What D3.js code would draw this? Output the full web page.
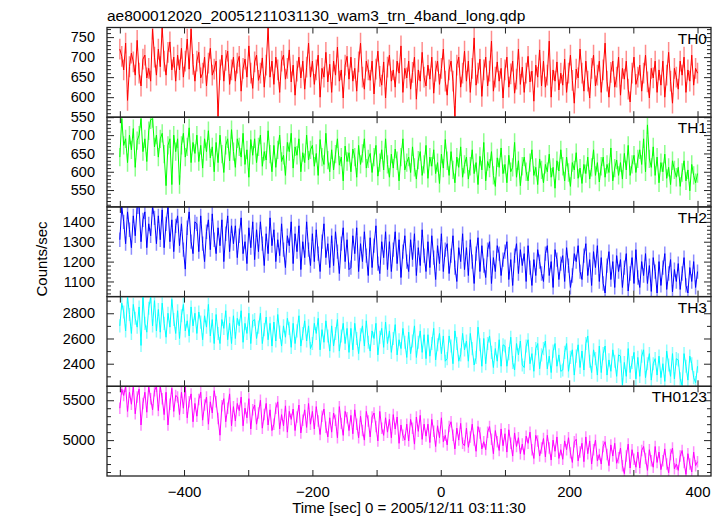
<!DOCTYPE html>
<html><head><meta charset="utf-8">
<script src="https://cdn.jsdelivr.net/npm/d3@7"></script>
<style>body{margin:0;background:#fff}</style>
</head><body><svg id="c" width="724" height="516"></svg>
<script>
const chartTitle = "ae800012020_20051211031130_wam3_trn_4band_long.qdp";
const xTitle = "Time [sec] 0 = 2005/12/11 03:11:30";
const yTitle = "Counts/sec";
const seriesNames = ["TH0", "TH1", "TH2", "TH3", "TH0123"];
const seriesColors = ["#ff0000", "#00ff00", "#0000ff", "#00ffff", "#ff00ff"];
const timeStart = -500, timeStep = 3;

const th0 = [
720,702,668,735,592,676,710,688,655,742,
660,628,695,705,648,672,640,770,700,655,
720,676,775,690,655,712,738,668,700,640,
705,668,722,650,690,745,670,770,682,640,
690,712,648,660,700,628,685,722,655,670,
690,552,668,705,640,692,715,632,668,700,
640,685,702,615,672,695,650,728,660,622,
688,705,642,660,698,625,680,775,650,690,
632,700,668,612,690,705,645,672,718,638,
680,605,665,700,648,690,620,675,735,650,
690,632,668,705,600,672,650,712,638,682,
612,690,655,725,640,668,598,680,702,645,
700,640,672,615,688,735,650,620,690,668,
642,690,608,670,715,652,630,688,598,675,
705,640,668,625,690,660,728,612,672,648,
690,620,662,700,595,668,640,712,650,628,
680,645,700,610,665,690,632,672,720,640,
605,668,690,640,552,680,700,625,660,715,
640,690,612,672,748,630,660,695,602,668,
700,628,665,740,615,650,688,640,672,598,
668,700,625,658,690,610,645,720,632,675,
612,660,702,638,665,590,680,650,718,628,
690,625,655,740,600,668,640,688,618,660,
630,695,612,660,705,642,585,670,648,720,
660,615,690,640,598,672,705,628,655,690,
612,668,735,640,600,662,690,625,650,700,
605,672,645,690,620,588,660,700,632,650,
680,615,660,705,638,598,672,648,690,612,
668,630,690,600,655,712,640,585,672,650,
620,690,655,700,612,668,640,705,630,672,
660];
const th1 = [
640,745,672,690,625,700,660,718,612,685,
700,745,655,690,628,712,742,745,668,700,
640,690,705,648,562,672,690,565,700,655,
690,565,672,705,640,668,720,625,680,650,
700,628,672,610,690,655,712,638,668,600,
680,625,700,648,598,672,690,630,715,655,
612,690,668,640,705,620,660,585,688,645,
690,625,668,700,615,655,632,712,648,600,
672,612,660,700,628,645,590,680,655,705,
610,668,645,690,600,652,625,700,632,660,
672,615,650,590,688,640,620,705,632,600,
660,605,648,690,618,640,575,670,628,652,
600,662,640,585,672,620,650,690,610,635,
650,598,640,672,588,625,660,605,690,620,
585,648,610,662,630,575,640,690,605,625,
640,598,668,612,580,632,655,590,620,672,
582,640,615,660,595,625,568,648,610,688,
630,590,655,605,570,640,612,668,585,620,
640,580,615,660,595,625,565,642,605,680,
575,628,610,655,590,560,638,612,665,595,
620,570,645,600,612,680,585,630,562,615,
640,600,575,625,660,590,612,565,635,605,
570,620,600,648,585,612,555,630,602,660,
615,575,640,598,560,625,605,652,582,610,
568,620,595,640,580,612,660,590,625,572,
615,640,585,620,598,665,575,610,632,590,
625,580,650,605,672,590,620,645,598,635,
660,620,690,600,728,635,612,668,590,640,
570,625,600,648,582,612,565,630,605,585,
612,560,598,630,575,605,548,620,590,570,
595];
const th2 = [
1310,1475,1400,1290,1450,1360,1270,1430,1330,1475,
1475,1300,1410,1450,1270,1390,1330,1475,1420,1290,
1430,1310,1460,1270,1390,1475,1300,1410,1250,1380,
1430,1280,1390,1260,1162,1370,1450,1300,1240,1400,
1390,1250,1430,1290,1200,1350,1410,1260,1440,1310,
1240,1370,1280,1410,1200,1340,1430,1250,1380,1290,
1380,1220,1330,1420,1240,1300,1190,1370,1270,1400,
1210,1360,1250,1400,1290,1180,1340,1240,1420,1280,
1360,1200,1310,1230,1390,1260,1170,1330,1280,1400,
1190,1340,1250,1380,1160,1300,1220,1400,1260,1180,
1340,1200,1360,1240,1150,1300,1390,1220,1290,1170,
1330,1180,1350,1250,1140,1290,1370,1200,1310,1160,
1170,1330,1240,1370,1150,1290,1200,1350,1230,1130,
1320,1170,1280,1380,1190,1140,1300,1220,1350,1160,
1300,1150,1260,1350,1190,1310,1120,1250,1330,1200,
1150,1310,1210,1340,1130,1270,1180,1360,1230,1150,
1300,1170,1330,1220,1110,1280,1190,1340,1150,1260,
1290,1140,1230,1330,1170,1100,1270,1200,1340,1160,
1270,1130,1310,1200,1090,1240,1320,1150,1280,1180,
1120,1260,1300,1090,1220,1150,1280,1240,1130,1210,
1250,1300,1110,1210,1080,1230,1290,1140,1260,1180,
1240,1100,1280,1170,1080,1210,1130,1260,1200,1140,
1100,1240,1280,1130,1200,1070,1260,1210,1110,1190,
1230,1100,1270,1180,1070,1130,1240,1200,1280,1150,
1110,1230,1290,1130,1210,1080,1250,1170,1280,1100,
1220,1090,1042,1180,1250,1110,1200,1070,1230,1150,
1210,1070,1170,1240,1052,1140,1220,1090,1260,1120,
1070,1200,1130,1240,1090,1180,1050,1220,1150,1042,
1200,1080,1170,1240,1060,1140,1210,1048,1160,1100,
1190,1060,1140,1220,1080,1042,1170,1100,1200,1070,
1150];
const th3 = [
2700,2880,2810,2660,2930,2790,2640,2870,2760,2690,
2850,2545,2930,2720,2650,2840,2930,2700,2900,2660,
2830,2650,2880,2720,2610,2800,2690,2910,2750,2640,
2820,2600,2780,2870,2660,2740,2620,2850,2700,2800,
2640,2810,2730,2590,2780,2690,2870,2620,2750,2560,
2790,2640,2560,2750,2680,2820,2590,2720,2560,2780,
2600,2760,2700,2820,2570,2720,2640,2800,2560,2740,
2750,2600,2690,2800,2560,2670,2770,2590,2720,2540,
2730,2580,2790,2650,2540,2700,2610,2760,2680,2530,
2720,2560,2660,2780,2540,2640,2740,2580,2700,2520,
2560,2720,2640,2760,2510,2670,2570,2740,2620,2500,
2700,2540,2640,2750,2500,2620,2720,2560,2680,2490,
2680,2510,2720,2600,2480,2630,2700,2540,2740,2570,
2500,2660,2600,2720,2470,2610,2680,2530,2730,2560,
2660,2490,2600,2710,2470,2590,2520,2680,2570,2450,
2650,2480,2580,2700,2450,2570,2660,2490,2630,2440,
2630,2460,2560,2680,2430,2550,2640,2480,2620,2420,
2440,2620,2540,2400,2660,2560,2420,2470,2640,2510,
2580,2420,2640,2520,2390,2450,2690,2550,2380,2600,
2400,2560,2620,2490,2370,2520,2420,2590,2380,2550,
2540,2380,2480,2610,2410,2350,2560,2470,2580,2390,
2370,2540,2590,2400,2480,2340,2520,2560,2360,2470,
2520,2580,2360,2460,2330,2500,2560,2380,2470,2340,
2350,2490,2560,2340,2450,2510,2310,2460,2550,2370,
2500,2350,2560,2620,2420,2330,2510,2440,2310,2540,
2330,2480,2540,2310,2430,2340,2510,2420,2300,2470,
2460,2232,2410,2300,2520,2330,2410,2490,2280,2450,
2300,2460,2510,2290,2400,2480,2270,2400,2440,2310,
2460,2290,2400,2260,2500,2390,2300,2480,2280,2440,
2430,2280,2228,2480,2380,2270,2460,2400,2290,2250,
2380];
const th0123 = [
5400,5640,5560,5675,5360,5600,5450,5675,5330,5540,
5640,5190,5460,5600,5350,5675,5520,5380,5620,5675,
5370,5675,5520,5320,5600,5190,5450,5650,5360,5560,
5540,5320,5600,5400,5675,5280,5480,5580,5230,5460,
5300,5510,5600,5250,5440,5540,5200,5480,5340,5620,
5480,5270,5062,5430,5520,5230,5400,5580,5180,5420,
5240,5460,5370,5540,5180,5400,5280,5520,5140,5380,
5440,5200,5340,5500,5150,5320,5460,5190,5380,5120,
5200,5400,5480,5140,5320,5180,5430,5100,5360,5260,
5390,5120,5290,5440,5090,5250,5380,5160,5460,5200,
5360,5140,5420,5240,5070,5300,5390,5160,5040,5280,
5100,5340,5250,5030,5420,5210,5060,5360,5280,5120,
5310,5080,5380,5200,5030,5300,5120,5000,5360,5240,
5040,5290,5340,5170,4990,5360,5150,5060,5280,5100,
5260,5030,5320,5140,5290,4960,5190,5060,5000,5200,
4990,5260,5150,4950,5290,5110,5310,5010,5200,5050,
5200,4970,5260,5110,4920,5180,5030,5280,4980,5060,
4940,5170,5230,5060,4890,5150,5000,5210,4960,4930,
5150,4910,5040,5200,5000,4860,5170,5090,4890,4980,
4880,5100,5170,5010,4830,5120,4980,4870,5140,4930,
5080,4850,5130,4960,4800,5090,4920,5030,4830,4950,
4820,5050,4960,5100,4880,4770,5060,4990,4800,4900,
5020,4790,5060,4900,4750,5000,4860,5040,4770,4880,
4760,4990,4880,5030,4840,4720,4980,5010,4740,4850,
4960,4730,5040,4830,4990,4700,4880,5000,4740,4820,
4700,4920,4980,4820,4680,4940,4800,4960,4710,4780,
4900,4680,4580,4800,4950,4650,4880,4760,4660,4850,
4650,4870,4920,4770,4620,4880,4740,4660,4920,4720,
4850,4630,4740,4890,4700,4590,4820,4900,4640,4700,
4620,4800,4870,4720,4570,4830,4700,4600,4850,4680,
4730];
const seriesErrors = [26, 25, 36, 52, 72];
const yDomains = [[550, 774], [504, 749], [1024, 1475], [2221, 2932], [4550, 5675]];
const yMajorTicks = [[550, 600, 650, 700, 750], [550, 600, 650, 700], [1100, 1200, 1300, 1400], [2400, 2600, 2800], [5000, 5500]];
const yMinorStep = [10, 10, 20, 100, 100];
const xTickValues = [-500, -400, -300, -200, -100, 0, 100, 200, 300, 400];
const xTickLabels = [-400, -200, 0, 200, 400];

const allSeries = [th0, th1, th2, th3, th0123];

const left = 107, right = 711, top0 = 27.5, bottom = 476;
const nP = allSeries.length;
const pH = (bottom - top0) / nP;
const font = "'Liberation Sans', Arial, Helvetica, sans-serif";

const svg = d3.select("#c");
const x = d3.scaleLinear().domain([-520, 421]).range([left, right]);

svg.append("text").attr("x", left).attr("y", 21).attr("font-family", font)
  .attr("font-size", 15.5).attr("fill", "#000").text(chartTitle);

const defs = svg.append("defs");

allSeries.forEach((vals, i) => {
  const pTop = top0 + i * pH, pBot = pTop + pH;
  const y = d3.scaleLinear().domain(yDomains[i]).range([pBot, pTop]);
  const data = vals.map((v, k) => ({t: timeStart + k * timeStep, v}));
  defs.append("clipPath").attr("id", "clip" + i).append("rect")
    .attr("x", left).attr("y", pTop).attr("width", right - left).attr("height", pH);
  const g = svg.append("g").attr("clip-path", `url(#clip${i})`);
  const err = seriesErrors[i];
  g.selectAll("line.eb").data(data).join("line").attr("class", "eb")
    .attr("x1", d => x(d.t)).attr("x2", d => x(d.t))
    .attr("y1", d => y(d.v - err)).attr("y2", d => y(d.v + err))
    .attr("stroke", seriesColors[i]).attr("stroke-opacity", 0.45).attr("stroke-width", 1.5);
  g.append("path").datum(data)
    .attr("d", d3.line().x(d => x(d.t)).y(d => y(d.v)))
    .attr("fill", "none").attr("stroke", seriesColors[i]).attr("stroke-width", 1);

  const [d0, d1] = yDomains[i];
  const st = yMinorStep[i];
  const minor = d3.range(Math.ceil(d0 / st) * st, d1 + 0.001, st).filter(v => !yMajorTicks[i].includes(v));
  const axL = svg.append("g").attr("transform", `translate(${left},0)`)
    .call(d3.axisLeft(y).tickValues(yMajorTicks[i]).tickSize(-7).tickPadding(12).tickFormat(d3.format("d")));
  axL.select(".domain").remove();
  axL.selectAll("text").attr("font-family", font).attr("font-size", 14.5).attr("fill", "#000");
  axL.selectAll("line").attr("stroke", "#222");
  const axLm = svg.append("g").attr("transform", `translate(${left},0)`)
    .call(d3.axisLeft(y).tickValues(minor).tickSize(-4).tickFormat(""));
  axLm.select(".domain").remove(); axLm.selectAll("line").attr("stroke", "#222");
  const axR = svg.append("g").attr("transform", `translate(${right},0)`)
    .call(d3.axisRight(y).tickValues(yMajorTicks[i]).tickSize(-7).tickFormat(""));
  axR.select(".domain").remove(); axR.selectAll("line").attr("stroke", "#222");
  const axRm = svg.append("g").attr("transform", `translate(${right},0)`)
    .call(d3.axisRight(y).tickValues(minor).tickSize(-4).tickFormat(""));
  axRm.select(".domain").remove(); axRm.selectAll("line").attr("stroke", "#222");

  const axT = svg.append("g").attr("transform", `translate(0,${pTop})`)
    .call(d3.axisTop(x).tickValues(xTickValues).tickSize(-6).tickFormat(""));
  axT.select(".domain").remove(); axT.selectAll("line").attr("stroke", "#222");
  const last = i === nP - 1;
  const axB = svg.append("g").attr("transform", `translate(0,${pBot})`)
    .call(d3.axisBottom(x).tickValues(xTickValues).tickSize(-6).tickPadding(10)
      .tickFormat(d => (last && xTickLabels.includes(d)) ? d3.format("d")(d) : ""));
  axB.select(".domain").remove(); axB.selectAll("line").attr("stroke", "#222");
  axB.selectAll("text").attr("font-family", font).attr("font-size", 15).attr("fill", "#000");

  svg.append("rect").attr("x", left).attr("y", pTop).attr("width", right - left).attr("height", pH)
    .attr("fill", "none").attr("stroke", "#222").attr("stroke-width", 1.3);

  svg.append("text").attr("x", right - 4).attr("y", pTop + 16).attr("text-anchor", "end")
    .attr("font-family", font).attr("font-size", 15.5).attr("fill", "#000").text(seriesNames[i]);
});

svg.append("text").attr("transform", `translate(46.5,259) rotate(-90)`).attr("text-anchor", "middle")
  .attr("font-family", font).attr("font-size", 15).attr("fill", "#000").text(yTitle);
svg.append("text").attr("x", (left + right) / 2).attr("y", 513).attr("text-anchor", "middle")
  .attr("font-family", font).attr("font-size", 15).attr("fill", "#000").text(xTitle);
</script></body></html>
